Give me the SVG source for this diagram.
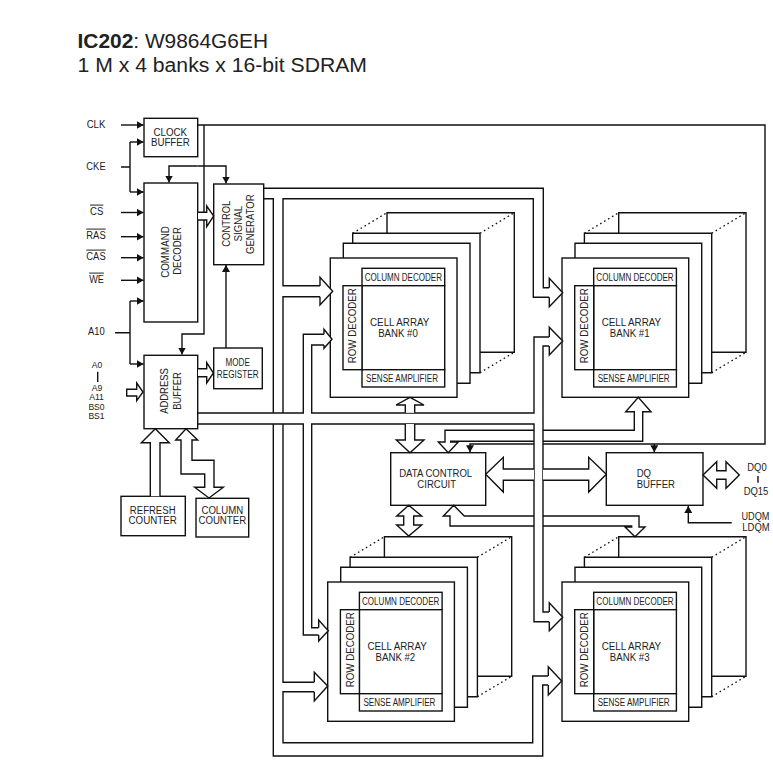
<svg xmlns="http://www.w3.org/2000/svg" xmlns:xlink="http://www.w3.org/1999/xlink" width="773" height="780" viewBox="0 0 773 780">
<style>
text{font-family:"Liberation Sans",Arial,sans-serif;font-size:10px;fill:#222;text-anchor:middle}
.t{font-size:20px;text-anchor:start;fill:#222}
.s{font-size:8.6px}
.b{fill:#fff;stroke:#111;stroke-width:1.4}
.l{fill:none;stroke:#111;stroke-width:1.4}
.d{fill:none;stroke:#111;stroke-width:1.3;stroke-dasharray:1.6 3}
.h{fill:#fff;stroke:#111;stroke-width:1.4;stroke-linejoin:miter}
.o{text-decoration:overline}
</style>
<defs>
<marker id="a" markerUnits="userSpaceOnUse" markerWidth="7" markerHeight="8" refX="7" refY="4" orient="auto"><path d="M0 0L7 4L0 8z" fill="#111"/></marker>
<g id="bank">
<path class="l" d="M56.700 -24.700V-45.300H184V94.300H149.700"/>
<path class="d" d="M22.400 -24.700L56.700 -45.300M149.700 -24.700L184 -45.300M149.700 114.700L184 94.300"/>
<path class="l" d="M22.400 -14.700V-24.700H149.700V114.700H139.700"/>
<path class="l" d="M13 0V-14.700H139.700V125.300H126.700"/>
<rect class="b" x="0" y="0" width="126.700" height="139.300"/>
<rect class="b" x="31.700" y="10.300" width="82.700" height="17.400"/>
<rect class="b" x="31.700" y="27.700" width="82.700" height="84"/>
<rect class="b" x="31.700" y="111.700" width="82.700" height="17.300"/>
<rect class="b" x="12.700" y="27.700" width="19" height="84"/>
</g>
</defs>

<g id="title">
<text class="t" x="77.500" y="48" textLength="190.500" lengthAdjust="spacingAndGlyphs"><tspan font-weight="bold">IC202</tspan>: W9864G6EH</text>
<text class="t" x="77.500" y="72" textLength="289.500" lengthAdjust="spacingAndGlyphs">1 M x 4 banks x 16-bit SDRAM</text>
</g>

<g id="clock-buffer"><rect class="b" x="144" y="118.300" width="53.700" height="38.400"/><text x="170.300" y="135.800" textLength="33.700" lengthAdjust="spacingAndGlyphs">CLOCK</text><text x="170.300" y="146.200" textLength="38.700" lengthAdjust="spacingAndGlyphs">BUFFER</text></g>
<g id="command-decoder"><rect class="b" x="144" y="183" width="53.700" height="139"/><text transform="translate(168.500 252) rotate(-90)" textLength="51.700" lengthAdjust="spacingAndGlyphs">COMMAND</text><text transform="translate(181 251) rotate(-90)" textLength="47.500" lengthAdjust="spacingAndGlyphs">DECODER</text></g>
<g id="control-signal-generator"><rect class="b" x="213.700" y="184" width="50" height="80.700"/><text transform="translate(230.200 223.700) rotate(-90)" textLength="46" lengthAdjust="spacingAndGlyphs">CONTROL</text><text transform="translate(241.800 223.700) rotate(-90)" textLength="35.700" lengthAdjust="spacingAndGlyphs">SIGNAL</text><text transform="translate(253.500 224.200) rotate(-90)" textLength="59.700" lengthAdjust="spacingAndGlyphs">GENERATOR</text></g>
<g id="mode-register"><rect class="b" x="213.700" y="348" width="48.600" height="40.700"/><text x="237.700" y="365.500" textLength="24.300" lengthAdjust="spacingAndGlyphs">MODE</text><text x="237.700" y="377.500" textLength="41.700" lengthAdjust="spacingAndGlyphs">REGISTER</text></g>
<g id="address-buffer"><rect class="b" x="144" y="355.300" width="53.700" height="73.400"/><text transform="translate(168.200 391) rotate(-90)" textLength="45.700" lengthAdjust="spacingAndGlyphs">ADDRESS</text><text transform="translate(180.800 391) rotate(-90)" textLength="37.700" lengthAdjust="spacingAndGlyphs">BUFFER</text></g>
<g id="refresh-counter"><rect class="b" x="121" y="496.300" width="64.300" height="39.400"/><text x="152.700" y="513.500" textLength="45.700" lengthAdjust="spacingAndGlyphs">REFRESH</text><text x="152.700" y="523.500" textLength="48.300" lengthAdjust="spacingAndGlyphs">COUNTER</text></g>
<g id="column-counter"><rect class="b" x="196" y="498.300" width="52.700" height="38.700"/><text x="222.300" y="513.500" textLength="41.700" lengthAdjust="spacingAndGlyphs">COLUMN</text><text x="222.300" y="523.500" textLength="47.700" lengthAdjust="spacingAndGlyphs">COUNTER</text></g>
<g id="data-control-circuit"><rect class="b" x="390.700" y="452.700" width="95" height="52.600"/><text x="435.700" y="476.800" textLength="73" lengthAdjust="spacingAndGlyphs">DATA CONTROL</text><text x="436.700" y="487.500" textLength="38.700" lengthAdjust="spacingAndGlyphs">CIRCUIT</text></g>
<g id="dq-buffer"><rect class="b" x="606.300" y="452.700" width="96.700" height="52.600"/><text x="643.800" y="476.800" textLength="14.300" lengthAdjust="spacingAndGlyphs">DQ</text><text x="655.800" y="487.500" textLength="38.300" lengthAdjust="spacingAndGlyphs">BUFFER</text></g>

<g id="bank-0" transform="translate(330.300 258)"><use href="#bank" xlink:href="#bank"/><text x="69.400" y="67.500" textLength="59.300" lengthAdjust="spacingAndGlyphs">CELL ARRAY</text><text x="67.700" y="78.500" textLength="39.700" lengthAdjust="spacingAndGlyphs">BANK #0</text><text x="73" y="22.500" textLength="77.300" lengthAdjust="spacingAndGlyphs">COLUMN DECODER</text><text x="71.700" y="123.500" textLength="72" lengthAdjust="spacingAndGlyphs">SENSE AMPLIFIER</text><text transform="translate(26 67.700) rotate(-90)" textLength="75" lengthAdjust="spacingAndGlyphs">ROW DECODER</text></g>
<g id="bank-1" transform="translate(562 258)"><use href="#bank" xlink:href="#bank"/><text x="69.400" y="67.500" textLength="59.300" lengthAdjust="spacingAndGlyphs">CELL ARRAY</text><text x="67.700" y="78.500" textLength="39.700" lengthAdjust="spacingAndGlyphs">BANK #1</text><text x="73" y="22.500" textLength="77.300" lengthAdjust="spacingAndGlyphs">COLUMN DECODER</text><text x="71.700" y="123.500" textLength="72" lengthAdjust="spacingAndGlyphs">SENSE AMPLIFIER</text><text transform="translate(26 67.700) rotate(-90)" textLength="75" lengthAdjust="spacingAndGlyphs">ROW DECODER</text></g>
<g id="bank-2" transform="translate(327.700 582)"><use href="#bank" xlink:href="#bank"/><text x="69.400" y="67.500" textLength="59.300" lengthAdjust="spacingAndGlyphs">CELL ARRAY</text><text x="67.700" y="78.500" textLength="39.700" lengthAdjust="spacingAndGlyphs">BANK #2</text><text x="73" y="22.500" textLength="77.300" lengthAdjust="spacingAndGlyphs">COLUMN DECODER</text><text x="71.700" y="123.500" textLength="72" lengthAdjust="spacingAndGlyphs">SENSE AMPLIFIER</text><text transform="translate(26 67.700) rotate(-90)" textLength="75" lengthAdjust="spacingAndGlyphs">ROW DECODER</text></g>
<g id="bank-3" transform="translate(562 582)"><use href="#bank" xlink:href="#bank"/><text x="69.400" y="67.500" textLength="59.300" lengthAdjust="spacingAndGlyphs">CELL ARRAY</text><text x="67.700" y="78.500" textLength="39.700" lengthAdjust="spacingAndGlyphs">BANK #3</text><text x="73" y="22.500" textLength="77.300" lengthAdjust="spacingAndGlyphs">COLUMN DECODER</text><text x="71.700" y="123.500" textLength="72" lengthAdjust="spacingAndGlyphs">SENSE AMPLIFIER</text><text transform="translate(26 67.700) rotate(-90)" textLength="75" lengthAdjust="spacingAndGlyphs">ROW DECODER</text></g>

<g id="connectors">
<path class="l" d="M121 125H143.500" marker-end="url(#a)"/>
<path class="l" d="M121 167H130M130 142V192"/>
<path class="l" d="M130 142H143.500" marker-end="url(#a)"/>
<path class="l" d="M130 192H143.500" marker-end="url(#a)"/>
<path class="l" d="M121 212.500H143.500" marker-end="url(#a)"/>
<path class="l" d="M121 236.700H143.500" marker-end="url(#a)"/>
<path class="l" d="M121 257.700H143.500" marker-end="url(#a)"/>
<path class="l" d="M121 280.300H143.500" marker-end="url(#a)"/>
<path class="l" d="M115 332.700H130M130 301V364"/>
<path class="l" d="M130 301H143.500" marker-end="url(#a)"/>
<path class="l" d="M130 364H143.500" marker-end="url(#a)"/>
<path class="l" d="M198 125H765V444H543"/>
<path class="l" d="M534 444H470V452.200" marker-end="url(#a)"/>
<path class="l" d="M654.300 444V452.200" marker-end="url(#a)"/>
<path class="l" d="M204 125V334H182V354.500" marker-end="url(#a)"/>
<path class="l" d="M197.500 166H226V183.500" marker-end="url(#a)"/>
<path class="l" d="M197.500 166H169V182.500" marker-end="url(#a)"/>
<path class="l" d="M226 348V265" marker-end="url(#a)"/>
<path class="l" d="M731.700 522.700H688.300V506" marker-end="url(#a)"/>

<path class="h" d="M198 212.300H206.700V206L213.700 216L206.700 226.700V220H198"/>
<path class="h" d="M198 368.700H206.700V362.700L213.400 373L206.700 383V376.700H198"/>
<path class="h" d="M126.700 389.300H136.700V383L143 392L136.700 400.700V396H126.700z"/>
<path class="h" d="M150.300 496.300V442.700H141.300L155.300 428.700L169.300 442.700H160V496.300"/>
<path class="h" d="M186 428.700L197.700 440H192V460.300H214V487.300H223.300L209 498L194.700 487.300H204.700V474H181V440H175.700z"/>

<path class="l" d="M264 188.300H543.300V287.700H549.300"/>
<path class="l" d="M264 198.700H273.300V413M273.300 424V756H542.700V685H548.300"/>
<path class="l" d="M549.300 297.300H533.300V198.700H283V285.700H320M320 296.700H283V413M283 424V682.300H314.300M314.300 691.700H283V742.700H532.700V676H548.300"/>
<path class="h" d="M320 286V277.300L332.700 291.300L320 305V296.700"/>
<path class="h" d="M549.300 287.700V278.300L562.700 292.700L549.300 306.700V297.300"/>
<path class="h" d="M314.300 682.300V672.300L327.700 686L314.300 701V691.700"/>
<path class="h" d="M548.300 676V666.700L561.700 681L548.300 695V685"/>

<path class="l" d="M198 413H303.300V334.300H324M324 345H311.700V413H534V337H549.300M549.300 346H543V612H549.300"/>
<path class="l" d="M198 424H303.300V635H318.700M318.700 627.700H311.700V424H534V621.700H549.300"/>
<path class="h" d="M324 334.300V329.300L332 339.300L324 348.300V345"/>
<path class="h" d="M549.300 337V327.300L562.700 341L549.300 355V346"/>
<path class="h" d="M318.700 627.700V620L328.300 630.700L318.700 641V635"/>
<path class="h" d="M549.300 612V602.700L562.700 617.300L549.300 630.700V621.700"/>

<path class="h" d="M405.300 412.700V405H396L410 397.300L424 405H414.700V412.700"/>
<path class="h" d="M405.300 424V440H396.300L410 452.700L424 440H414.700V424"/>
<path class="l" d="M534 430.300H445V442H438.300L448.300 452.700L458.300 442H450.700V441.300H534"/>
<path class="l" d="M543 430.300H634.300V411.700H625.700L638.300 397.300L651 411.700H642.700V441.300H543"/>
<path class="h" d="M534 469H503.300V457.300L485.700 474.300L503.300 492V480.300H534"/>
<path class="h" d="M543 469H588.700V457.300L606.300 474.300L588.700 492V480.300H543"/>
<path class="h" d="M703 475L716.700 461.700V470.700H726V461.700L739.300 475L726 488.300V479.300H716.700V488.300z"/>
<path class="h" d="M408.700 505.300L421.700 516H413.700V525H421.700L408.700 536L396.700 525H403.700V516H396.700z"/>
<path class="l" d="M534 516H464.300L453.700 505.300L443.300 516H450V526H534"/>
<path class="l" d="M543 516H639V527H645L635 536.700L625 527H631.700V526H543"/>
</g>

<g id="labels">
<text x="96" y="127.600" textLength="18.700" lengthAdjust="spacingAndGlyphs">CLK</text>
<text x="96" y="169.600" textLength="19.300" lengthAdjust="spacingAndGlyphs">CKE</text>
<text x="96.700" y="214.600" class="o" textLength="13.300" lengthAdjust="spacingAndGlyphs">CS</text>
<text x="96" y="238.600" class="o" textLength="19.300" lengthAdjust="spacingAndGlyphs">RAS</text>
<text x="96" y="259.600" class="o" textLength="19.300" lengthAdjust="spacingAndGlyphs">CAS</text>
<text x="96.500" y="282.600" class="o" textLength="14.700" lengthAdjust="spacingAndGlyphs">WE</text>
<text x="96.300" y="334.600" textLength="16.700" lengthAdjust="spacingAndGlyphs">A10</text>
<text x="97" y="368" class="s">A0</text>
<path class="l" d="M97.700 371.700V382"/>
<text x="97" y="391" class="s">A9</text>
<text x="96.500" y="400.400" class="s">A11</text>
<text x="96.500" y="410" class="s">BS0</text>
<text x="96.500" y="419.400" class="s">BS1</text>
<text x="757" y="470.500" textLength="19.300" lengthAdjust="spacingAndGlyphs">DQ0</text>
<path class="l" d="M758 476V482.700"/>
<text x="756" y="494.500" textLength="24.700" lengthAdjust="spacingAndGlyphs">DQ15</text>
<text x="755.500" y="520.200" textLength="28" lengthAdjust="spacingAndGlyphs">UDQM</text>
<text x="756" y="530.800" textLength="27.300" lengthAdjust="spacingAndGlyphs">LDQM</text>
</g>
</svg>
